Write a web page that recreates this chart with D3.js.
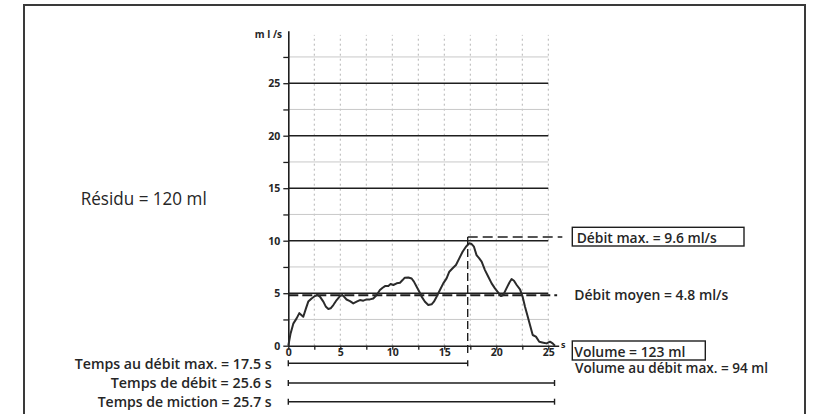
<!DOCTYPE html>
<html>
<head>
<meta charset="utf-8">
<script src="https://cdn.jsdelivr.net/npm/d3@7"></script>
<style>
  body { margin: 0; background: #fff; }
  svg { display: block; }
  text { fill: #262626; font-family: "Open Sans", sans-serif; }
  .tick text { font-weight: 700; font-size: 10.5px; }
  .label { font-weight: 600; font-size: 15px; }
</style>
</head>
<body>
<div id="chart"></div>
<script>
const width = 813;
const height = 414;

// courbe de débit (s, ml/s)
const flowTime = [0, 0.22, 0.48, 0.8, 1.06, 1.28, 1.44, 1.7, 1.92, 2.24, 2.56, 2.79, 3.04, 3.37, 3.62, 3.85,
  4.07, 4.33, 4.65, 4.97, 5.2, 5.35, 5.6, 5.93, 6.25, 6.57, 6.89, 7.21, 7.53, 7.85, 8.17, 8.5, 8.81,
  9.07, 9.3, 9.62, 9.84, 10.1, 10.42, 10.74, 10.99, 11.2, 11.54, 11.86, 12.08, 12.34, 12.6, 12.82,
  13.14, 13.46, 13.78, 14.0, 14.26, 14.58, 14.9, 15.22, 15.48, 15.8, 16.12, 16.44, 16.76, 17.08,
  17.4, 17.63, 17.85, 18.1, 18.36, 18.59, 18.91, 19.23, 19.55, 19.87, 20.19, 20.45, 20.67, 20.93,
  21.25, 21.47, 21.7, 21.96, 22.28, 22.53, 22.76, 22.98, 23.24, 23.5, 23.81, 24.13, 24.52, 24.84,
  25.16, 25.42, 25.64];
const flowRate = [0, 1.17, 2.1, 2.6, 3.1, 2.9, 2.76, 3.56, 4.2, 4.5, 4.73, 4.83, 4.67, 4.2, 3.7, 3.5,
  3.56, 3.87, 4.35, 4.73, 4.83, 4.67, 4.4, 4.25, 4.03, 4.19, 4.35, 4.29, 4.41, 4.41, 4.5, 4.83, 5.3,
  5.52, 5.68, 5.68, 5.87, 5.78, 5.94, 6.0, 6.25, 6.48, 6.5, 6.4, 6.1, 5.62, 5.14, 4.67,
  4.19, 3.87, 3.94, 4.19, 4.67, 5.3, 5.94, 6.41, 7.05, 7.37, 7.68, 8.32, 8.95, 9.43,
  9.75, 9.68, 9.43, 8.63, 8.32, 8.0, 7.2, 6.57, 5.94, 5.46, 5.05, 4.73, 4.83, 5.37,
  6.0, 6.35, 6.19, 5.78, 5.37, 4.67, 3.71, 2.92, 1.97, 1.02, 0.86, 0.38, 0.29, 0.22,
  0.38, 0.22, 0];

const yMajor = [0, 5, 10, 15, 20, 25];
const yMinor = [2.5, 7.5, 12.5, 17.5, 22.5, 27.5];
const xTicks = [0, 2.5, 5, 7.5, 10, 12.5, 15, 17.5, 20, 22.5, 25];
const xLabels = [0, 5, 10, 15, 20, 25];

const meanFlow = 4.8;
const peakTime = 17.25;   // position du trait sur l'image
const peakLevel = 10.35;  // hauteur du pointillé horizontal
const bracketEnds = [17.25, 25.6, 25.6];

const timeLabels = ["Temps au débit max. = 17.5 s", "Temps de débit = 25.6 s", "Temps de miction = 25.7 s"];
const rightLabels = ["Débit max. = 9.6 ml/s", "Débit moyen = 4.8 ml/s", "Volume = 123 ml", "Volume au débit max. = 94 ml"];
const residu = "Résidu = 120 ml";

const svg = d3.select("#chart")
  .append("svg")
  .attr("width", width)
  .attr("height", height);

// cadre
svg.append("rect")
  .attr("x", 24).attr("y", 5)
  .attr("width", 781).attr("height", 430)
  .attr("fill", "none")
  .attr("stroke", "#3a3a3a")
  .attr("stroke-width", 2);

const x = d3.scaleLinear().domain([0, 26]).range([288.3, 558.7]);
const y = d3.scaleLinear().domain([0, 30]).range([345.7, 30.7]);

// grille verticale pointillée
svg.append("g").selectAll("line")
  .data(xTicks.slice(1))
  .join("line")
  .attr("x1", d => x(d)).attr("x2", d => x(d))
  .attr("y1", y(0)).attr("y2", y(29.6))
  .attr("stroke", "#b5b5b5")
  .attr("stroke-width", 1)
  .attr("stroke-dasharray", "2,3");

// grille horizontale
svg.append("g").selectAll("line")
  .data(yMinor)
  .join("line")
  .attr("x1", x(0)).attr("x2", x(25))
  .attr("y1", d => y(d)).attr("y2", d => y(d))
  .attr("stroke", "#c8c8c8")
  .attr("stroke-width", 1);

svg.append("g").selectAll("line")
  .data(yMajor.slice(1))
  .join("line")
  .attr("x1", x(0)).attr("x2", x(25))
  .attr("y1", d => y(d)).attr("y2", d => y(d))
  .attr("stroke", "#1e1e1e")
  .attr("stroke-width", 1.4);

// axes
const yAxis = svg.append("g")
  .attr("transform", `translate(${x(0)},0)`)
  .call(d3.axisLeft(y).tickValues(yMajor.concat(yMinor)).tickSize(5).tickSizeOuter(0)
    .tickFormat(d => yMajor.includes(d) ? d : ""));

const xAxis = svg.append("g")
  .attr("transform", `translate(0,${y(0)})`)
  .call(d3.axisBottom(x).tickValues(xTicks).tickSize(4).tickSizeOuter(0)
    .tickFormat(d => xLabels.includes(d) ? d : ""));

[yAxis, xAxis].forEach(a => {
  a.select(".domain").attr("stroke", "#1e1e1e").attr("stroke-width", 1.6);
  a.selectAll(".tick line").attr("stroke", "#1e1e1e").attr("stroke-width", 1.3);
});
yAxis.selectAll(".tick text").attr("x", -8).attr("fill", "#262626");
xAxis.selectAll(".tick text").attr("y", 2.5).attr("font-size", "11px").attr("fill", "#262626");

svg.append("text")
  .attr("x", 282).attr("y", 37.5)
  .attr("text-anchor", "end")
  .attr("font-weight", 700).attr("font-size", "10px")
  .text("m l /s");

svg.append("text")
  .attr("x", 561).attr("y", 348)
  .attr("font-weight", 700).attr("font-size", "9px")
  .text("s");

// débit moyen
svg.append("line")
  .attr("x1", x(0)).attr("x2", x(25.85))
  .attr("y1", y(meanFlow)).attr("y2", y(meanFlow))
  .attr("stroke", "#1e1e1e")
  .attr("stroke-width", 2)
  .attr("stroke-dasharray", "10,4");

// courbe
const line = d3.line()
  .x((d, i) => x(flowTime[i]))
  .y(d => y(d));

svg.append("path")
  .datum(flowRate)
  .attr("d", line)
  .attr("fill", "none")
  .attr("stroke", "#2b2b2b")
  .attr("stroke-width", 2)
  .attr("stroke-linejoin", "round");

// débit max
svg.append("line")
  .attr("x1", x(peakTime)).attr("x2", x(peakTime))
  .attr("y1", y(peakLevel)).attr("y2", y(-0.7))
  .attr("stroke", "#1e1e1e")
  .attr("stroke-width", 1.4)
  .attr("stroke-dasharray", "8,4");

svg.append("line")
  .attr("x1", x(peakTime)).attr("x2", x(26.35))
  .attr("y1", y(peakLevel)).attr("y2", y(peakLevel))
  .attr("stroke", "#1e1e1e")
  .attr("stroke-width", 1.4)
  .attr("stroke-dasharray", "10,5");

// barres de temps
const bracketY = [363.3, 383, 401.7];
const brackets = svg.append("g").selectAll("g")
  .data(bracketEnds)
  .join("g")
  .attr("transform", (d, i) => `translate(0,${bracketY[i]})`);

brackets.append("line")
  .attr("x1", x(0)).attr("x2", d => x(d))
  .attr("stroke", "#1e1e1e").attr("stroke-width", 1.4);
brackets.append("line")
  .attr("x1", x(0)).attr("x2", x(0)).attr("y1", -3).attr("y2", 3)
  .attr("stroke", "#1e1e1e").attr("stroke-width", 1.4);
brackets.append("line")
  .attr("x1", d => x(d)).attr("x2", d => x(d)).attr("y1", -3).attr("y2", 3)
  .attr("stroke", "#1e1e1e").attr("stroke-width", 1.4);

// textes
const timeBase = [369, 388.3, 406.7];
const timeWidth = [197, 161, 174];
svg.append("g").selectAll("text")
  .data(timeLabels)
  .join("text")
  .attr("class", "label")
  .attr("x", 271.7)
  .attr("y", (d, i) => timeBase[i])
  .attr("text-anchor", "end")
  .attr("textLength", (d, i) => timeWidth[i])
  .attr("lengthAdjust", "spacingAndGlyphs")
  .text(d => d);

const rightX = [576.7, 574.3, 574.3, 575];
const rightBase = [243.3, 300, 356.7, 373.3];
const rightWidth = [140, 154, 111, 193];
svg.append("g").selectAll("text")
  .data(rightLabels)
  .join("text")
  .attr("class", "label")
  .attr("x", (d, i) => rightX[i])
  .attr("y", (d, i) => rightBase[i])
  .attr("textLength", (d, i) => rightWidth[i])
  .attr("lengthAdjust", "spacingAndGlyphs")
  .text(d => d);

// encadrés
const boxes = [[572.3, 227.3, 171.7, 18.7], [572.3, 341, 133, 19]];
svg.append("g").selectAll("rect")
  .data(boxes)
  .join("rect")
  .attr("x", d => d[0]).attr("y", d => d[1])
  .attr("width", d => d[2]).attr("height", d => d[3])
  .attr("fill", "none")
  .attr("stroke", "#1e1e1e")
  .attr("stroke-width", 1.4);

svg.append("text")
  .attr("x", 80.7).attr("y", 205)
  .attr("font-size", "18.5px")
  .attr("textLength", 126)
  .attr("lengthAdjust", "spacingAndGlyphs")
  .attr("fill", "#333")
  .text(residu);
</script>
</body>
</html>
